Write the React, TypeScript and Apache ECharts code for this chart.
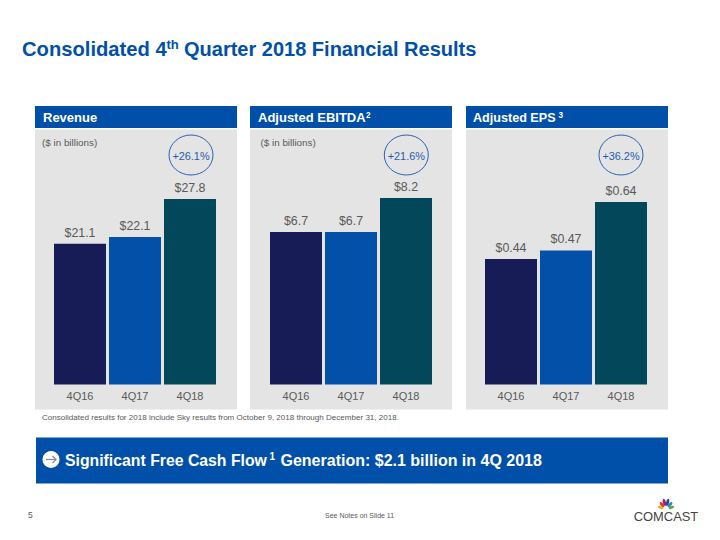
import React, { useEffect, useRef } from "react";
import * as echarts from "echarts";

const categories = ["4Q16", "4Q17", "4Q18"];
const revenue = [21.1, 22.1, 27.8];
const ebitda = [6.7, 6.7, 8.2];
const eps = [0.44, 0.47, 0.64];
const revenueLabels = ["$21.1", "$22.1", "$27.8"];
const ebitdaLabels = ["$6.7", "$6.7", "$8.2"];
const epsLabels = ["$0.44", "$0.47", "$0.64"];
const barColors = ["#171c57", "#0350a8", "#02475a"];
const FONT = '"Liberation Sans", Arial, sans-serif';
const BLUE = "#0050a9";

const panels = [
  { x: 35, titleX: 43, titleSize: 13, title: "Revenue", sup: "", supX: 0, note: "($ in billions)", noteX: 42, growth: "+26.1%", gx: 191, left: 52.5, top: 199, h: 185.5, values: revenue, labels: revenueLabels },
  { x: 250, titleX: 258, titleSize: 13, title: "Adjusted EBITDA", sup: "2", supX: 366, note: "($ in billions)", noteX: 260.5, growth: "+21.6%", gx: 406.3, left: 268.5, top: 198, h: 186.5, values: ebitda, labels: ebitdaLabels },
  { x: 466, titleX: 473, titleSize: 12.6, title: "Adjusted EPS", sup: "3", supX: 558.5, note: "", noteX: 0, growth: "+36.2%", gx: 621, left: 483.5, top: 202, h: 182.5, values: eps, labels: epsLabels },
];

const txt = (x: number, y: number, text: string, fontSize: number, fill: string, fontWeight: any = "normal", textAlign: any = "left", z = 5) => ({
  type: "text", x, y, z,
  style: { text, fontSize, fill, fontWeight, fontFamily: FONT, textAlign, textVerticalAlign: "middle" },
});

const feathers = [
  { c: "#f2b01e", r: 1.2, dx: -5.4, dy: -1.6, ry: 3 },
  { c: "#e23d2e", r: 0.72, dx: -4, dy: -4.4, ry: 3.2 },
  { c: "#a3206a", r: 0.24, dx: -1.6, dy: -6.6, ry: 3.8 },
  { c: "#3b3f9c", r: -0.24, dx: 1.6, dy: -6.6, ry: 3.8 },
  { c: "#1d8fd1", r: -0.72, dx: 4, dy: -4.4, ry: 3.2 },
  { c: "#5fa83a", r: -1.2, dx: 5.4, dy: -1.6, ry: 3 },
];

export default function App() {
  const ref = useRef<HTMLDivElement>(null);
  useEffect(() => {
    document.body.style.margin = "0";
    const chart = echarts.init(ref.current!, null, { renderer: "svg" });
    const graphic: any[] = [
      txt(22, 49, "Consolidated 4", 20.2, BLUE, "bold"),
      txt(166.5, 44, "th", 13, BLUE, "bold"),
      txt(184, 49, "Quarter 2018 Financial Results", 20, BLUE, "bold"),
      { type: "rect", z: 0, shape: { x: 36, y: 437.5, width: 632, height: 46 }, style: { fill: BLUE } },
      { type: "circle", z: 2, shape: { cx: 51, cy: 459.5, r: 8.5 }, style: { fill: "#ffffff" } },
      { type: "polyline", z: 3, shape: { points: [[46, 459.5], [56, 459.5]] }, style: { stroke: "#8a8a8a", lineWidth: 1.2, fill: "none" } },
      { type: "polyline", z: 3, shape: { points: [[52.5, 456], [56, 459.5], [52.5, 463]] }, style: { stroke: "#8a8a8a", lineWidth: 1.2, fill: "none" } },
      txt(65, 460.5, "Significant Free Cash Flow", 15.8, "#ffffff", "bold"),
      txt(269.5, 456, "1", 10, "#ffffff", "bold"),
      txt(280.5, 460.5, "Generation: $2.1 billion in 4Q 2018", 16, "#ffffff", "bold"),
      txt(42, 417.5, "Consolidated results for 2018 include Sky results from October 9, 2018 through December 31, 2018.", 8.05, "#595959"),
      txt(28, 515, "5", 8.5, "#595959"),
      txt(325, 515, "See Notes on Slide 11", 7, "#595959"),
      txt(666, 516.5, "COMCAST", 12.9, "#444444", "normal", "center"),
      ...feathers.map((f) => ({
        type: "ellipse", z: 3, x: 666 + f.dx, y: 509 + f.dy, rotation: f.r,
        shape: { cx: 0, cy: 0, rx: 1.5, ry: f.ry }, style: { fill: f.c },
      })),
    ];
    panels.forEach((p) => {
      graphic.push(
        { type: "rect", z: 0, shape: { x: p.x, y: 106, width: 202, height: 22 }, style: { fill: BLUE } },
        { type: "rect", z: 0, shape: { x: p.x, y: 129.5, width: 202, height: 280 }, style: { fill: "#e4e4e4" } },
        txt(p.titleX, 117.5, p.title, p.titleSize, "#ffffff", "bold"),
        { type: "ellipse", z: 3, shape: { cx: p.gx, cy: 155, rx: 22, ry: 20 }, style: { fill: "none", stroke: "#2a64b4", lineWidth: 1 } },
        txt(p.gx, 156, p.growth, 10.9, "#1f5cb0", "normal", "center")
      );
      if (p.sup) graphic.push(txt(p.supX, 115, p.sup, 8.2, "#ffffff", "bold"));
      if (p.note) graphic.push(txt(p.noteX, 142.5, p.note, 9.85, "#595959"));
    });
    chart.setOption({
      animation: false,
      backgroundColor: "#ffffff",
      graphic,
      grid: panels.map((p) => ({ left: p.left, top: p.top, width: 165, height: p.h })),
      xAxis: panels.map((_, i) => ({
        type: "category", gridIndex: i, data: categories,
        axisLine: { show: false }, axisTick: { show: false },
        axisLabel: { color: "#595959", fontSize: 11, fontFamily: FONT, margin: 6 },
      })),
      yAxis: panels.map((p, i) => ({
        type: "value", gridIndex: i, min: 0, max: p.values[2], show: false, splitLine: { show: false },
      })),
      series: panels.map((p, i) => ({
        type: "bar", xAxisIndex: i, yAxisIndex: i, barWidth: 52, z: 4,
        data: p.values.map((v, k) => ({ value: v, itemStyle: { color: barColors[k] } })),
        label: {
          show: true, position: "top", distance: 5, color: "#595959", fontSize: 12.4, fontFamily: FONT,
          formatter: (o: any) => p.labels[o.dataIndex],
        },
      })),
    });
    return () => chart.dispose();
  }, []);
  return <div ref={ref} style={{ width: 720, height: 540 }} />;
}
